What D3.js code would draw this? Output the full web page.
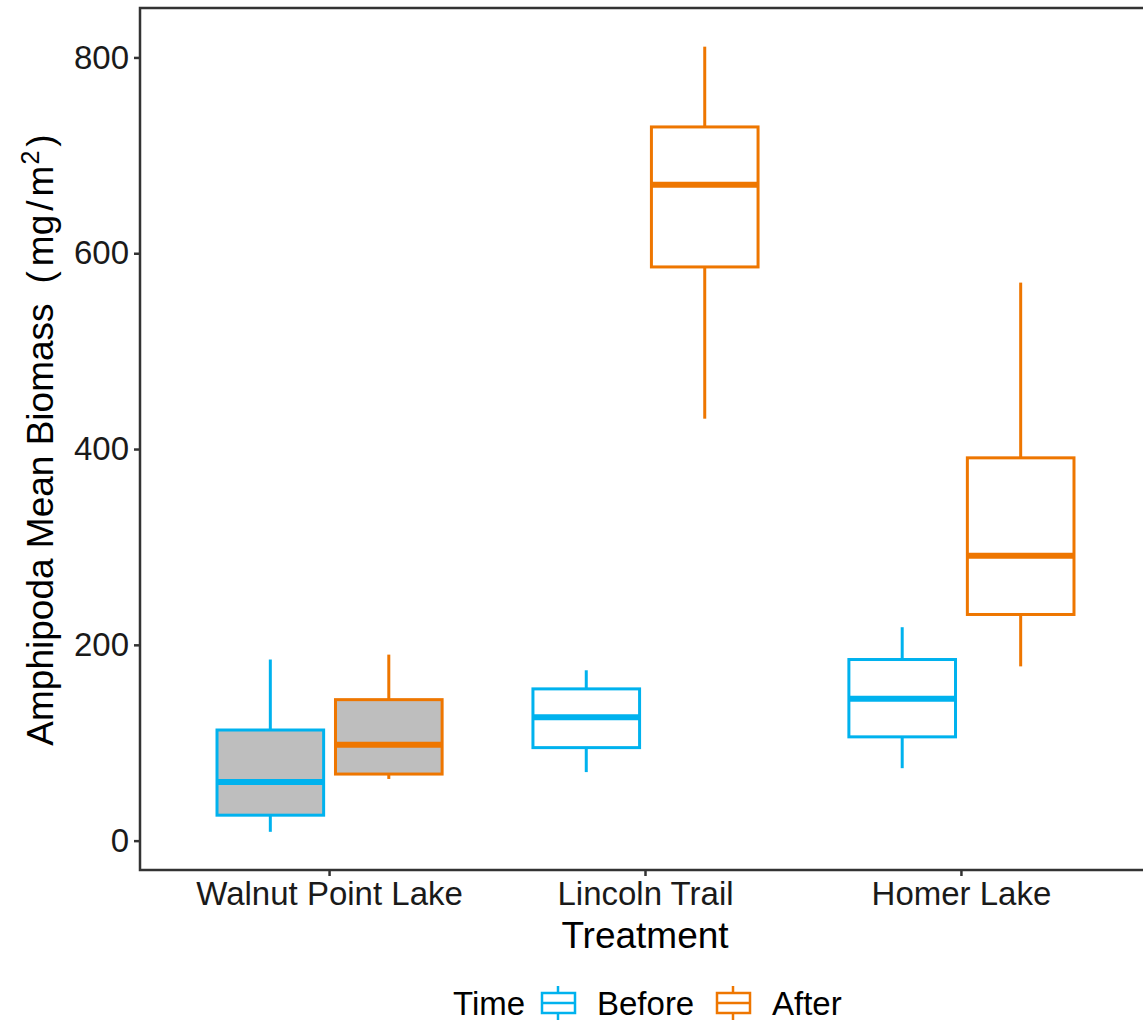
<!DOCTYPE html>
<html lang="en">
<head>
    <meta charset="UTF-8">
    <title>Amphipoda Mean Biomass</title>
    <style>
        body { margin: 0; background: #fff; }
        svg { display: block; font-family: "Liberation Sans", Arial, sans-serif; }
        .tick-label { font-size: 33px; fill: #1a1a1a; }
        .axis-title { font-size: 37px; fill: #000; }
        .legend-text { font-size: 33px; fill: #000; }
    </style>
</head>
<body>
    <svg id="chart" width="1143" height="1024"></svg>

    <script src="https://d3js.org/d3.v7.min.js"></script>
    <script>
        // --- Data ---
        const treatments = ["Walnut Point Lake", "Lincoln Trail", "Homer Lake"];
        const times = ["Before", "After"];
        // [whisker low, lower hinge, median, upper hinge, whisker high]
        const beforeStats = [[9, 26, 60, 113, 185], [70, 95, 126, 155, 174], [74, 106, 145, 185, 218]];
        const afterStats = [[63, 68, 98, 144, 190], [431, 586, 670, 729, 811], [178, 231, 291, 391, 570]];
        const boxFills = ["#BEBEBE", "#FFFFFF", "#FFFFFF"];
        const yTicks = [0, 200, 400, 600, 800];

        const colors = { Before: "#00B2EE", After: "#EE7600" };

        const boxes = [];
        treatments.forEach((t, i) => {
            boxes.push({ treatment: t, time: "Before", stats: beforeStats[i], fill: boxFills[i] });
            boxes.push({ treatment: t, time: "After", stats: afterStats[i], fill: boxFills[i] });
        });

        const svg = d3.select("#chart");
        const panel = { left: 140, top: 8, bottom: 870, right: 1151 };

        // x: one band per treatment, ggplot-like 0.6 expansion on each end
        const x = d3.scaleBand()
            .domain(treatments)
            .range([panel.left, panel.right])
            .paddingInner(0)
            .paddingOuter(0.1);
        const dodgeW = x.bandwidth() * 0.75;
        const xTime = d3.scaleBand().domain(times).range([-dodgeW / 2, dodgeW / 2]);
        const boxW = xTime.bandwidth() * 0.9;
        const cx = d => x(d.treatment) + x.bandwidth() / 2 + xTime(d.time) + xTime.bandwidth() / 2;

        const y = d3.scaleLinear().domain([-30, 850.5]).range([panel.bottom, panel.top]);

        const g = svg.append("g");

        // whiskers
        g.selectAll(".whisker-up")
            .data(boxes).enter().append("line")
            .attr("x1", cx).attr("x2", cx)
            .attr("y1", d => y(d.stats[3]))
            .attr("y2", d => y(d.stats[4]))
            .attr("stroke", d => colors[d.time])
            .attr("stroke-width", 3);
        g.selectAll(".whisker-down")
            .data(boxes).enter().append("line")
            .attr("x1", cx).attr("x2", cx)
            .attr("y1", d => y(d.stats[1]))
            .attr("y2", d => y(d.stats[0]))
            .attr("stroke", d => colors[d.time])
            .attr("stroke-width", 3);

        // boxes
        g.selectAll(".box")
            .data(boxes).enter().append("rect")
            .attr("x", d => cx(d) - boxW / 2)
            .attr("width", boxW)
            .attr("y", d => y(d.stats[3]))
            .attr("height", d => y(d.stats[1]) - y(d.stats[3]))
            .attr("fill", d => d.fill)
            .attr("stroke", d => colors[d.time])
            .attr("stroke-width", 3);

        // medians
        g.selectAll(".median")
            .data(boxes).enter().append("line")
            .attr("x1", d => cx(d) - boxW / 2)
            .attr("x2", d => cx(d) + boxW / 2)
            .attr("y1", d => y(d.stats[2]))
            .attr("y2", d => y(d.stats[2]))
            .attr("stroke", d => colors[d.time])
            .attr("stroke-width", 6);

        // panel border
        svg.append("rect")
            .attr("x", panel.left).attr("y", panel.top)
            .attr("width", panel.right - panel.left)
            .attr("height", panel.bottom - panel.top)
            .attr("fill", "none")
            .attr("stroke", "#333")
            .attr("stroke-width", 2.5);

        // y axis
        const yAxis = svg.append("g")
            .attr("transform", `translate(${panel.left},0)`)
            .call(d3.axisLeft(y).tickValues(yTicks).tickSize(6).tickPadding(5));
        yAxis.select(".domain").remove();
        yAxis.selectAll(".tick line").attr("stroke", "#333").attr("stroke-width", 2.5);
        yAxis.selectAll(".tick text").attr("class", "tick-label").attr("font-size", null).attr("font-family", null);
        yAxis.attr("font-size", null).attr("font-family", null);

        // x axis
        const xAxis = svg.append("g")
            .attr("transform", `translate(0,${panel.bottom})`)
            .call(d3.axisBottom(x).tickSize(6).tickPadding(6));
        xAxis.select(".domain").remove();
        xAxis.selectAll(".tick line").attr("stroke", "#333").attr("stroke-width", 2.5);
        xAxis.selectAll(".tick text").attr("class", "tick-label").attr("font-size", null).attr("font-family", null);
        xAxis.attr("font-size", null).attr("font-family", null);

        // axis titles
        svg.append("text")
            .attr("class", "axis-title")
            .attr("x", 645)
            .attr("y", 948)
            .attr("text-anchor", "middle")
            .text("Treatment");

        const yTitle = svg.append("text")
            .attr("class", "axis-title")
            .attr("text-anchor", "middle")
            .attr("transform", `translate(53,${(panel.top + panel.bottom) / 2 + 1}) rotate(-90)`);
        yTitle.append("tspan").text("Amphipoda Mean Biomass");
        yTitle.append("tspan").attr("dx", 20).text("(");
        yTitle.append("tspan").attr("dx", 5).text("mg");
        yTitle.append("tspan").attr("dx", 4).text("/");
        yTitle.append("tspan").attr("dx", 4).text("m");
        yTitle.append("tspan").attr("font-size", "25px").attr("dy", "-14").attr("dx", 1).text("2");
        yTitle.append("tspan").attr("dy", "14").attr("dx", 4).text(")");

        // legend
        const legend = svg.append("g").attr("transform", "translate(0,1003)");
        legend.append("text")
            .attr("class", "legend-text")
            .attr("x", 453).attr("y", 12)
            .text("Time");

        const legendItems = [
            { time: "Before", keyX: 541, textX: 597 },
            { time: "After", keyX: 716, textX: 772 }
        ];
        const key = legend.selectAll(".key")
            .data(legendItems).enter().append("g")
            .attr("transform", d => `translate(${d.keyX},0)`);
        key.append("line")
            .attr("x1", 17).attr("x2", 17).attr("y1", -17).attr("y2", 17)
            .attr("stroke", d => colors[d.time]).attr("stroke-width", 2.5);
        key.append("rect")
            .attr("x", 1).attr("y", -10).attr("width", 33).attr("height", 20)
            .attr("fill", "#fff")
            .attr("stroke", d => colors[d.time]).attr("stroke-width", 2.5);
        key.append("line")
            .attr("x1", 1).attr("x2", 34).attr("y1", 0).attr("y2", 0)
            .attr("stroke", d => colors[d.time]).attr("stroke-width", 2.5);
        legend.selectAll(".legend-label")
            .data(legendItems).enter().append("text")
            .attr("class", "legend-text")
            .attr("x", d => d.textX).attr("y", 12)
            .text(d => d.time);
    </script>
</body>
</html>
